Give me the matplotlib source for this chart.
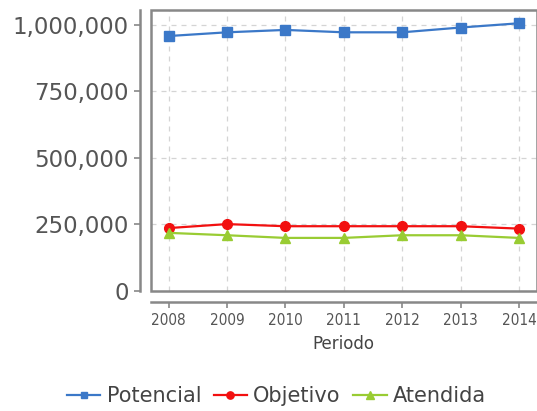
import matplotlib
matplotlib.use("Agg")
import matplotlib.pyplot as plt
from matplotlib.patches import Rectangle
from matplotlib.ticker import FuncFormatter

years = ["2008", "2009", "2010", "2011", "2012", "2013", "2014"]
potencial = [958000, 972000, 981000, 972000, 972000, 990000, 1006000]
objetivo = [235000, 250000, 242000, 242000, 242000, 242000, 233000]
atendida = [217000, 208000, 198000, 198000, 208000, 208000, 198000]
series_names = ["Potencial", "Objetivo", "Atendida"]
yticks = [0, 250000, 500000, 750000, 1000000]

W, H = 537, 411
fig = plt.figure(figsize=(W / 100, H / 100), dpi=100)
left, right, top, bottom = 150.5, 537, 10, 290.5
ax = fig.add_axes([left / W, 1 - bottom / H, (right - left) / W, (bottom - top) / H])

x = list(range(len(years)))
ax.plot(x, potencial, color="#3b78c8", lw=1.6, marker="s", ms=6.5, label=series_names[0], clip_on=False, zorder=3)
ax.plot(x, objetivo, color="#f21010", lw=1.6, marker="o", ms=7, label=series_names[1], clip_on=False, zorder=3)
ax.plot(x, atendida, color="#99cc33", lw=1.6, marker="^", ms=7, label=series_names[2], clip_on=False, zorder=3)

ax.set_xlim(-0.31, 6.31)
ax.set_ylim(0, 1056000)
ax.set_xticks(x)
ax.set_xticklabels(years)
ax.set_yticks(yticks)
ax.yaxis.set_major_formatter(FuncFormatter(lambda v, p: f"{int(v):,}"))

ax.grid(True, color="#d4d4d4", linestyle=(0, (4, 4)), lw=0.9)
ax.set_axisbelow(True)

for s in ["top", "right"]:
    ax.spines[s].set_visible(False)
ax.spines["left"].set_position(("outward", 7.5))
ax.spines["bottom"].set_position(("outward", 8.5))
for s in ["left", "bottom"]:
    ax.spines[s].set_color("#888888")
    ax.spines[s].set_linewidth(1.8)
ax.add_patch(Rectangle((0, 0), 1, 1, transform=ax.transAxes, fill=False,
                       edgecolor="#888888", lw=1.8, clip_on=False, zorder=1))

ax.tick_params(axis="y", direction="out", length=4, width=1.2, color="#888888",
               labelsize=16.5, labelcolor="#555555", pad=4)
ax.tick_params(axis="x", direction="out", length=4, width=1.2, color="#888888",
               labelsize=11, labelcolor="#555555", pad=4)
for lab in ax.get_xticklabels():
    lab.set_fontstretch("condensed")

ax.set_xlabel("Periodo", fontsize=12, color="#444444", labelpad=5)

fig.legend(loc="center", bbox_to_anchor=(0.515, 1 - 396 / H), ncol=3, frameon=False,
           fontsize=15, handlelength=1.6, handletextpad=0.3, columnspacing=0.6,
           labelcolor="#444444", markerscale=0.75)

fig.savefig("out.png", dpi=100)
